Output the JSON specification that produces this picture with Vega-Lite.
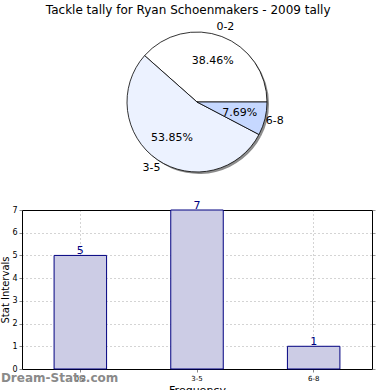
{
  "$schema": "https://vega.github.io/schema/vega-lite/v6.json",
  "padding": {"left": 0, "right": 20, "top": 4, "bottom": 0},
  "background": "white",
  "title": {"text": "Tackle tally for Ryan Schoenmakers - 2009 tally", "font": "DejaVu Sans", "fontSize": 12, "fontWeight": "normal", "color": "#000", "anchor": "middle", "offset": 4},
  "datasets": {
    "tally": [
      {"interval": "0-2", "count": 5, "pct": "38.46%"},
      {"interval": "3-5", "count": 7, "pct": "53.85%"},
      {"interval": "6-8", "count": 1, "pct": "7.69%"}
    ]
  },
  "vconcat": [
    {
      "width": 350,
      "height": 142,
      "view": {"stroke": null},
      "data": {"name": "tally"},
      "encoding": {
        "theta": {"field": "count", "type": "quantitative", "stack": true, "scale": {"range": [1.5708, 7.854]}},
        "order": {"field": "interval", "sort": "descending"}
      },
      "layer": [
        {"mark": {"type": "arc", "radius": 70, "fill": "#8c8c8c", "xOffset": 2, "yOffset": 2}},
        {"mark": {"type": "arc", "radius": 70, "stroke": "#000", "strokeWidth": 0.8},
         "encoding": {"color": {"field": "interval", "type": "nominal", "legend": null, "scale": {"domain": ["0-2", "3-5", "6-8"], "range": ["#ffffff", "#ecf2ff", "#c6d8ff"]}}}},
        {"mark": {"type": "text", "radius": 80, "font": "DejaVu Sans", "fontSize": 11, "color": "#000"},
         "encoding": {"text": {"field": "interval"}}},
        {"mark": {"type": "text", "radius": 44, "font": "DejaVu Sans", "fontSize": 11, "color": "#000"},
         "encoding": {"text": {"field": "pct"}}}
      ]
    },
    {
      "width": 350,
      "height": 159,
      "data": {"name": "tally"},
      "title": {"text": "Dream-Stats.com", "orient": "bottom", "anchor": "start", "dx": 0, "offset": -22, "font": "DejaVu Sans", "fontSize": 12, "fontWeight": "bold", "color": "#8a8a8a"},
      "layer": [
        {"mark": {"type": "bar", "width": {"band": 0.45}, "fill": "#ccccE5", "stroke": "#000080", "strokeWidth": 1},
         "encoding": {
           "x": {"field": "interval", "type": "nominal", "sort": ["0-2", "3-5", "6-8"],
                 "scale": {"paddingInner": 0, "paddingOuter": 0},
                 "axis": {"title": "Frequency", "labelAngle": 0, "labelFont": "DejaVu Sans", "labelFontSize": 7, "labelColor": "#000", "titleFont": "DejaVu Sans", "titleFontSize": 11, "titleFontWeight": "normal", "titleColor": "#000", "titlePadding": 3, "domain": true, "domainColor": "#000", "domainWidth": 1, "tickColor": "#888", "tickSize": 3, "labelPadding": 2, "grid": true, "gridDash": [1, 3], "gridColor": "#a8a8a8"}},
           "y": {"field": "count", "type": "quantitative", "scale": {"domain": [0, 7], "nice": false},
                 "axis": {"title": "Stat Intervals", "values": [0, 1, 2, 3, 4, 5, 6, 7], "minExtent": 0, "labelFont": "DejaVu Sans", "labelFontSize": 8, "labelColor": "#000", "titleFont": "DejaVu Sans", "titleFontSize": 10, "titleFontWeight": "normal", "titleColor": "#000", "titlePadding": 1, "domain": true, "domainColor": "#000", "domainWidth": 1, "tickColor": "#888", "tickSize": 3, "labelPadding": 2, "grid": true, "gridDash": [1, 3], "gridColor": "#a8a8a8"}}
         }},
        {"mark": {"type": "text", "baseline": "bottom", "dy": 1, "font": "DejaVu Sans", "fontSize": 11, "color": "#000080"},
         "encoding": {
           "x": {"field": "interval", "type": "nominal", "sort": ["0-2", "3-5", "6-8"], "axis": null},
           "y": {"field": "count", "type": "quantitative", "axis": null},
           "text": {"field": "count"}}},
        {"mark": {"type": "bar", "opacity": 0},
         "encoding": {
           "x": {"field": "interval", "type": "nominal", "sort": ["0-2", "3-5", "6-8"],
                 "axis": {"orient": "top", "title": null, "labels": false, "ticks": false, "grid": false, "domain": true, "domainColor": "#000", "domainWidth": 1, "minExtent": 0}},
           "y": {"field": "count", "type": "quantitative",
                 "axis": {"orient": "right", "title": null, "labels": false, "values": [0, 1, 2, 3, 4, 5, 6, 7], "ticks": true, "tickColor": "#999", "tickSize": 3, "grid": false, "domain": true, "domainColor": "#000", "domainWidth": 1, "minExtent": 0}}
         }}
      ],
      "resolve": {"axis": {"x": "independent", "y": "independent"}}
    }
  ],
  "spacing": 37,
  "bounds": "flush",
  "config": {"font": "DejaVu Sans", "view": {"stroke": null}}
}
